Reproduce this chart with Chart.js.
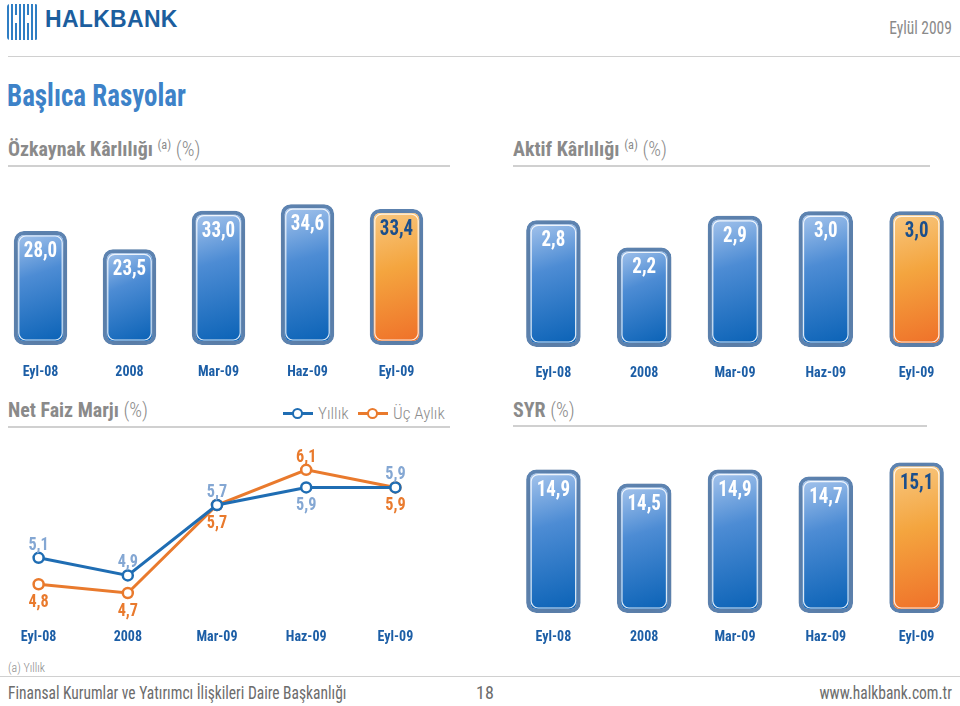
<!DOCTYPE html>
<html lang="tr">
<head>
<meta charset="utf-8">
<title>Başlıca Rasyolar</title>
<script src="https://cdn.jsdelivr.net/npm/chart.js@4.4.1/dist/chart.umd.min.js"></script>
<style>
  :root { --narrow: 'Roboto Condensed', 'Open Sans', sans-serif; }
  html, body { margin: 0; padding: 0; background: #fff; }
  body { width: 960px; height: 706px; position: relative; overflow: hidden; font-family: var(--narrow); }
  .abs { position: absolute; white-space: nowrap; }
  .sq { transform: scaleX(0.86); transform-origin: 0 50%; }
  .sq-r { transform: scaleX(0.86); transform-origin: 100% 50%; }
  canvas { position: absolute; }
  .rule { position: absolute; height: 2px; background: #d0d0d0; }
  .logo-icon { left: 7px; top: 4px; width: 31px; height: 36px;
    background: repeating-linear-gradient(90deg, #2f7ec4 0 2px, #fff 2px 4px); border-radius: 3px; }
  .logo-h { left: 15px; top: 15px; width: 15px; height: 8px; border-left: 3px solid #fff; border-right: 3px solid #fff; box-sizing: border-box; }
  .logo-text { left: 45px; top: 6px; font-family: 'Liberation Sans', sans-serif; font-weight: bold; font-size: 23px; color: #1c5e9e; letter-spacing: 0.3px; }
  .date { right: 8px; top: 17px; font-size: 18px; color: #8a8a8a; }
  .title { left: 7px; top: 77px; font-size: 31px; font-weight: bold; color: #3d82c8; }
  .section { font-size: 21px; font-weight: bold; color: #8a8a8a; transform: scaleX(0.95); transform-origin: 0 50%; }
  .section sup { font-size: 13px; font-weight: normal; vertical-align: 7px; }
  .section .pc { font-weight: 300; }
  .legend { top: 403px; font-size: 17px; font-weight: 300; color: #8e8e8e; display: flex; align-items: center; }
  .mark { position: relative; width: 30px; height: 3px; margin-right: 5px; }
  .mark i { position: absolute; left: 9px; top: -4px; width: 7px; height: 7px; border-radius: 50%; background: #fff; border: 2.5px solid; }
  .note { left: 8px; top: 661px; font-size: 12px; font-weight: 300; color: #8a8a8a; }
  .foot { top: 682px; font-size: 18px; color: #6c6c6c; }
</style>
</head>
<body>
<div class="abs logo-icon"></div>
<div class="abs logo-h"></div>
<div class="abs logo-text">HALKBANK</div>
<div class="abs date sq-r">Eylül 2009</div>
<div class="rule" style="left:8px; top:56px; width:952px; height:1px;"></div>

<div class="abs title sq" style="transform: scaleX(0.87);">Başlıca Rasyolar</div>

<div class="abs section" style="left:8px; top:137px;">Özkaynak Kârlılığı <sup>(a)</sup> <span class="pc">(%)</span></div>
<div class="rule" style="left:8px; top:165px; width:442px;"></div>
<div class="abs section" style="left:513px; top:137px;">Aktif Kârlılığı <sup>(a)</sup> <span class="pc">(%)</span></div>
<div class="rule" style="left:513px; top:165px; width:417px;"></div>

<div class="abs section" style="left:8px; top:398px;">Net Faiz Marjı <span class="pc">(%)</span></div>
<div class="rule" style="left:8px; top:426px; width:442px;"></div>
<div class="abs section" style="left:513px; top:398px;">SYR <span class="pc">(%)</span></div>
<div class="rule" style="left:513px; top:425px; width:414px;"></div>

<div class="abs legend" style="left:283px;"><span class="mark" style="background:#1f6db3"><i style="border-color:#1f6db3"></i></span>Yıllık</div>
<div class="abs legend" style="left:358px;"><span class="mark" style="background:#e97a2d"><i style="border-color:#e97a2d"></i></span>Üç Aylık</div>

<canvas id="ozkaynak" width="445" height="195" style="left:-4px; top:190px;"></canvas>
<canvas id="aktif" width="454" height="197" style="left:508px; top:190px;"></canvas>
<canvas id="faiz" width="446" height="213" style="left:-6px; top:440px;"></canvas>
<canvas id="syr" width="454" height="208" style="left:508px; top:445px;"></canvas>

<div class="abs note">(a) Yıllık</div>
<div class="rule" style="left:0; top:676px; width:960px; height:1px;"></div>
<div class="abs foot sq" style="left:8px;">Finansal Kurumlar ve Yatırımcı İlişkileri Daire Başkanlığı</div>
<div class="abs foot" style="left:476px;">18</div>
<div class="abs foot sq-r" style="right:8px;">www.halkbank.com.tr</div>

<script>
const categories = ['Eyl-08', '2008', 'Mar-09', 'Haz-09', 'Eyl-09'];
const ozkaynakValues = [28.0, 23.5, 33.0, 34.6, 33.4];
const aktifValues = [2.8, 2.2, 2.9, 3.0, 3.0];
const syrValues = [14.9, 14.5, 14.9, 14.7, 15.1];
const yillikValues = [5.1, 4.9, 5.7, 5.9, 5.9];
const ucAylikValues = [4.8, 4.7, 5.7, 6.1, 5.9];

const NARROW = "'Roboto Condensed', sans-serif";
const fmt = v => v.toFixed(1).replace('.', ',');

// gradient fill for each bar, built from the scales so it follows the bar
function barFill(c) {
  const chart = c.chart;
  const xs = chart.scales.x, ys = chart.scales.y;
  if (!xs || !ys || xs.width == null) return '#2a78c8';
  const last = c.dataIndex === c.dataset.data.length - 1;
  const x = xs.getPixelForValue(c.dataIndex);
  const w = xs.width / categories.length * 0.6;
  const top = ys.getPixelForValue(c.raw);
  const base = ys.getPixelForValue(ys.min);
  const g = chart.ctx.createLinearGradient(x - w / 2, top, x + w / 4, base);
  if (last) {
    g.addColorStop(0, '#f8c984');
    g.addColorStop(0.45, '#f4a53f');
    g.addColorStop(1, '#ef7029');
  } else {
    g.addColorStop(0, '#abc8ee');
    g.addColorStop(0.4, '#4d8cd4');
    g.addColorStop(1, '#0a62b6');
  }
  return g;
}

const barDecor = {
  id: 'barDecor',
  beforeDatasetsDraw(chart) {
    const ctx = chart.ctx;
    ctx.save();
    ctx.shadowColor = 'rgba(60,60,60,0.3)';
    ctx.shadowBlur = 24;
    ctx.shadowOffsetY = 2;
  },
  afterDatasetsDraw(chart) {
    const ctx = chart.ctx;
    ctx.restore();
    const meta = chart.getDatasetMeta(0);
    meta.data.forEach((bar, i) => {
      const w = bar.width, l = bar.x - w / 2 + 5, t = bar.y + 5;
      ctx.save();
      ctx.strokeStyle = 'rgba(255,255,255,0.85)';
      ctx.lineWidth = 1.2;
      ctx.beginPath();
      ctx.roundRect(l, t, w - 10, bar.base - bar.y - 10, 7);
      ctx.stroke();
      const last = i === meta.data.length - 1;
      ctx.fillStyle = last ? '#1b4f8c' : '#ffffff';
      ctx.font = 'bold 22px ' + NARROW;
      ctx.textAlign = 'center';
      ctx.textBaseline = 'alphabetic';
      ctx.translate(bar.x, bar.y + 26);
      ctx.scale(0.86, 1);
      ctx.fillText(fmt(chart.data.datasets[0].data[i]), 0, 0);
      ctx.restore();
    });
  }
};

function barChart(id, values, yMin, yMax, tickPad) {
  return new Chart(document.getElementById(id), {
    type: 'bar',
    data: {
      labels: categories,
      datasets: [{
        data: values,
        base: yMin,
        backgroundColor: barFill,
        borderColor: '#5f88b9',
        borderWidth: 4,
        borderRadius: 10,
        borderSkipped: false,
        categoryPercentage: 1,
        barPercentage: 0.6,
        clip: false
      }]
    },
    options: {
      responsive: false,
      animation: false,
      layout: { autoPadding: false, padding: { top: 5, left: 0, right: 0, bottom: 0 } },
      plugins: { legend: { display: false }, tooltip: { enabled: false } },
      scales: {
        x: {
          grid: { display: false },
          border: { display: false },
          ticks: { color: '#1c5ea6', padding: tickPad, font: { family: NARROW, size: 14, weight: 'bold' } },
          afterFit: s => { s.height = 40; }
        },
        y: { display: false, min: yMin, max: yMax }
      }
    },
    plugins: [barDecor]
  });
}

barChart('ozkaynak', ozkaynakValues, 0, 36.85, 11);
barChart('aktif', aktifValues, 0, 3.36, 10);
barChart('syr', syrValues, 10.8, 15.46, 8);

// labels for the line chart: a series sits above when it is the higher one
const lineLabels = {
  id: 'lineLabels',
  afterDatasetsDraw(chart) {
    const ctx = chart.ctx;
    const sets = chart.data.datasets;
    sets.forEach((ds, di) => {
      const other = sets[1 - di].data;
      chart.getDatasetMeta(di).data.forEach((pt, i) => {
        const v = ds.data[i];
        const above = di === 0 ? v >= other[i] : v > other[i];
        ctx.save();
        ctx.fillStyle = ds.labelColor;
        ctx.font = 'bold 18px ' + NARROW;
        ctx.textAlign = 'center';
        ctx.textBaseline = 'alphabetic';
        ctx.translate(pt.x, pt.y + (above ? -8 : 23));
        ctx.scale(0.9, 1);
        ctx.fillText(fmt(v), 0, 0);
        ctx.restore();
      });
    });
  }
};

new Chart(document.getElementById('faiz'), {
  type: 'line',
  data: {
    labels: categories,
    datasets: [
      {
        label: 'Yıllık', data: yillikValues, labelColor: '#84a7d3',
        borderColor: '#1f6db3', borderWidth: 3, tension: 0,
        pointRadius: 5, pointBorderWidth: 2.5, pointBackgroundColor: '#fff', pointBorderColor: '#1f6db3',
        clip: false
      },
      {
        label: 'Üç Aylık', data: ucAylikValues, labelColor: '#e97a2d',
        borderColor: '#e97a2d', borderWidth: 3, tension: 0,
        pointRadius: 5, pointBorderWidth: 2.5, pointBackgroundColor: '#fff', pointBorderColor: '#e97a2d',
        clip: false
      }
    ]
  },
  options: {
    responsive: false,
    animation: false,
    layout: { autoPadding: false, padding: { top: 5, left: 0, right: 0, bottom: 0 } },
    plugins: { legend: { display: false }, tooltip: { enabled: false } },
    scales: {
      x: {
        offset: true,
        grid: { display: false },
        border: { display: false },
        ticks: { color: '#1c5ea6', padding: 8, font: { family: NARROW, size: 14, weight: 'bold' } },
        afterFit: s => { s.height = 40; }
      },
      y: { display: false, min: 4.473, max: 6.382 }
    }
  },
  plugins: [lineLabels]
});
</script>
</body>
</html>
